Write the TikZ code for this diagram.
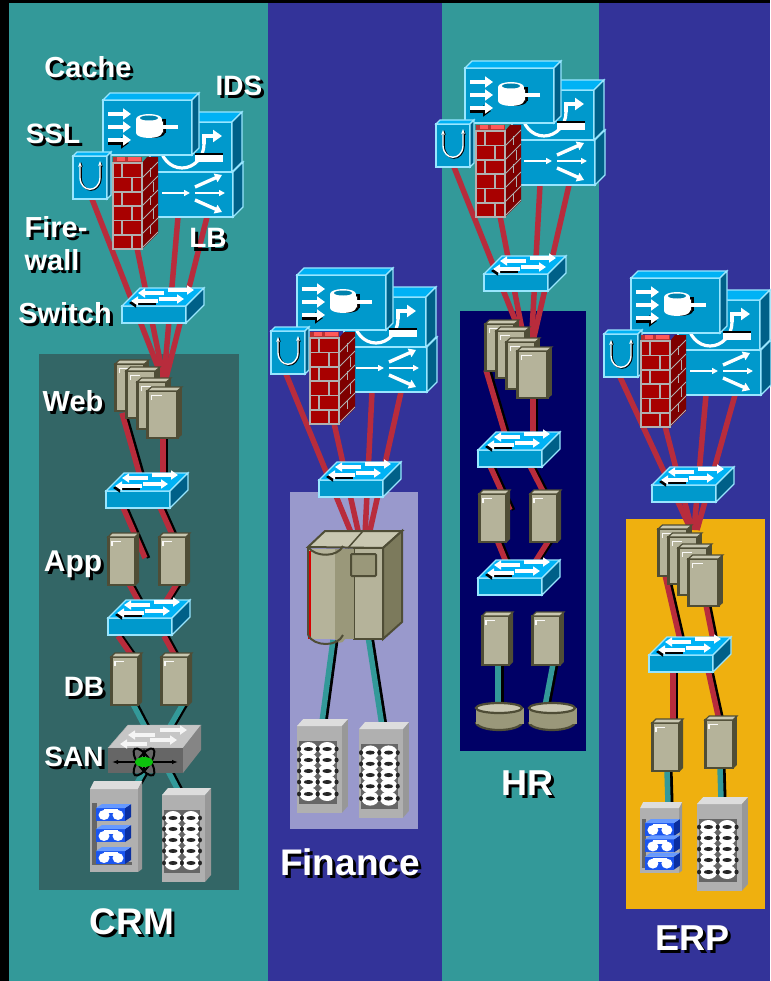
\documentclass[tikz,border=0pt]{standalone}
\usepackage{fontspec}
\setmainfont{Liberation Sans}
\usetikzlibrary{arrows.meta}
\definecolor{tealbg}{HTML}{339999}
\definecolor{bluebg}{HTML}{333399}
\definecolor{crmpanel}{HTML}{336666}
\definecolor{finpanel}{HTML}{9999CC}
\definecolor{hrpanel}{HTML}{000066}
\definecolor{erppanel}{HTML}{EFB00F}
\definecolor{bfront}{HTML}{0099CC}
\definecolor{bedge}{HTML}{99E6FF}
\definecolor{btop}{HTML}{00B2F5}
\definecolor{bside}{HTML}{006088}
\definecolor{linkred}{HTML}{B82C3C}
\definecolor{srvfront}{HTML}{B5B39A}
\definecolor{srvtop}{HTML}{C9C7B1}
\definecolor{srvdark}{HTML}{4F4D36}
\definecolor{srvmid}{HTML}{9A987A}
\definecolor{srvside}{HTML}{7C7A5C}
\definecolor{brick}{HTML}{A80000}
\definecolor{brickdark}{HTML}{7E0000}
\definecolor{cabfront}{HTML}{B0B0B0}
\definecolor{cabtop}{HTML}{DDDDDD}
\definecolor{cabside}{HTML}{989898}
\definecolor{tapefront}{HTML}{1A55F0}
\definecolor{tapetop}{HTML}{6699FF}
\definecolor{tapeside}{HTML}{0A2FA0}
\newcommand\bluebox[3]{%
  \draw[bedge,line width=1.2,fill=bfront] (0,0) rectangle (#1,#2);
  \draw[bedge,line width=1.2,fill=btop] (0,0)--(#3,-#3)--(#1+#3,-#3)--(#1,0)--cycle;
  \draw[bedge,line width=1.2,fill=bside] (#1,0)--(#1+#3,-#3)--(#1+#3,#2-#3)--(#1,#2)--cycle;}
\tikzset{
  wa/.style={white,line width=3.4,-{Triangle[length=7pt,width=9pt]}},
  wbig/.style={white,line width=4.6,-{Triangle[length=8pt,width=11pt]}},
  bbig/.style={black,line width=4.6,-{Triangle[length=8pt,width=11pt]}},
  wthin/.style={white,line width=1.6,-{Triangle[length=6pt,width=6pt]}},
  ba/.style={black,line width=3.4,-{Triangle[length=7pt,width=9pt]}},
  redl/.style={linkred,line width=5.5},
  teall/.style={tealbg,line width=5.5},
  shadowl/.style={black,line width=3.5},
  lblbase/.style={inner sep=0pt,anchor=base},
  cacheicon/.pic={
    \bluebox{89}{55}{7}
    \draw[bbig] (5,43)--(26,43);
    \draw[wbig] (5,14)--(28,14);
    \draw[wbig] (5,27)--(28,27);
    \draw[wbig] (5,40)--(28,40);
    \fill[black] (36,19) rectangle (63,33);
    \fill[black] (49,33) ellipse (13 and 5);
    \fill[white] (33,19) rectangle (59,33);
    \fill[white] (46,33) ellipse (13 and 5);
    \fill[white] (46,19) ellipse (13 and 5);
    \fill[bfront!85!black] (46,18) ellipse (9 and 2.5);
    \draw[wbig] (75,27)--(52,27);
  },
  idsicon/.pic={
    \bluebox{82}{50}{10}
    \draw[white,line width=3.2] (10,22) arc[start angle=180,end angle=0,x radius=22,y radius=24];
    \draw[white,line width=3.2,-{Triangle[length=9pt,width=12pt]}] (54,22)--(54,14)--(72,14);
    \fill[black] (45,31) rectangle (73,34);
    \fill[white] (45,33) rectangle (73,40);
  },
  lbicon/.pic={
    \bluebox{83}{45}{10}
    \draw[wthin] (12,21)--(40,21);
    \draw[wa] (45,15)--(72,3);
    \draw[wthin] (45,21)--(75,21);
    \draw[wa] (45,28)--(72,40);
  },
  sslicon/.pic={
    \bluebox{34}{43}{4}
    \draw[black,line width=1.6,{Stealth[length=5pt]}-{Stealth[length=5pt]}] (8,6)--(8,22) .. controls (9,38) and (27,38) .. (28,22)--(28,6);
    \draw[white,line width=1.4,{Stealth[length=5pt]}-{Stealth[length=5pt]}] (7,6)--(7,22) .. controls (8,37) and (26,37) .. (27,22)--(27,5);
  },
  wallicon/.pic={
    \fill[brickdark] (29,0)--(34,-6)--(45,-6)--(45,70)--(29,86)--cycle;
    \begin{scope}
      \clip (29,0)--(34,-6)--(45,-6)--(45,70)--(29,86)--cycle;
      \foreach \yy in {15,29,43,57,71,85}
        \draw[cabfront,line width=1] (29,\yy)--(45,\yy-16);
      \foreach \yy/\dd in {5/0,20/1,33/0,47/1,62/0}
        \draw[cabfront,line width=1] (37+3*\dd,\yy-\dd)--(37+3*\dd,\yy+9);
    \end{scope}
    \fill[brick!80!white] (0,-6)--(29,-6)--(29,0)--(0,0)--cycle;
    \fill[red!65!white] (4,-6) rectangle (12,-2);
    \fill[red!65!white] (15,-6) rectangle (28,-2);
    \fill[brick] (0,0) rectangle (29,86);
    \draw[cabfront,line width=1.2] (0,0) rectangle (29,86);
    \foreach \yy in {14.5,29,43,57.5,72}
      \draw[cabfront,line width=1.4] (0,\yy)--(29,\yy);
    \foreach \yy/\xa in {0/9,14.5/19,29/9,43/19,57.5/9,72/19}
      \draw[cabfront,line width=1.4] (\xa,\yy)--(\xa,\yy+14);
  },
  switchicon/.pic={
    \bluebox{64}{17}{18}
    \draw[ba] (34,-3)--(7,-3);
    \draw[wa] (42,-13)--(16,-13);
    \draw[wa] (46,-16)--(72,-16);
    \draw[wa] (36,-5)--(9,-5);
    \draw[wa] (37,-7)--(62,-7);
  },
  sanicon/.pic={
    \fill[gray!45!white,draw=gray!60!white] (0,0)--(20,-23)--(93,-23)--(75,0)--cycle;
    \fill[black!60] (0,0) rectangle (75,25);
    \fill[black!48] (75,0)--(93,-23)--(93,2)--(75,25)--cycle;
    \draw[wa,white!92!gray] (47,-13)--(20,-13);
    \draw[wa,white!92!gray] (52,-18)--(79,-18);
    \draw[wa,white!92!gray] (39,-4)--(12,-4);
    \draw[wa,white!92!gray] (42,-8)--(69,-8);
    \draw[black,line width=2,{Latex[length=6pt]}-{Latex[length=6pt]}] (4,14)--(70,14);
    \draw[black,line width=1.8,{Latex[length=5pt]}-{Latex[length=5pt]}] (36,0)--(36,25);
    \draw[black,line width=2,rotate around={55:(36,14)}] (36,14) ellipse (16 and 6);
    \draw[black,line width=2,rotate around={-55:(36,14)}] (36,14) ellipse (16 and 6);
    \fill[green!75!black!95!white] (36,14) ellipse (9 and 5);
  },
  servericon/.pic={
    \fill[srvdark] (28,4)--(32,0)--(32,49)--(28,53)--cycle;
    \draw[srvdark,line width=2.6,fill=srvfront] (1.3,4) rectangle (28,52);
    \draw[srvdark,line width=1.2,fill=srvtop] (1,4)--(5,0)--(32,0)--(28,4)--cycle;
    \draw[white!90!srvtop,line width=1.6] (5,13)--(5,8.5)--(14,8.5);
  },
  cabinet/.pic={
    \fill[cabside] (43,7)--(49,0)--(49,87)--(43,94)--cycle;
    \fill[cabfront] (0,7) rectangle (43,94);
    \fill[cabtop] (0,7)--(6,0)--(49,0)--(43,7)--cycle;
    \fill[black!60] (2,22) rectangle (38,85);
    \foreach \xx in {11,29} {
      \foreach \yy in {30,41,52,63,75}
        \fill[white] (\xx,\yy) ellipse (8.5 and 7);
      \foreach \yy in {30,41,52,63,75} {
        \fill[black!85] (\xx,\yy) ellipse (4.5 and 2);
        \fill[black!85] (\xx-9,\yy) ellipse (2 and 2.4);
        \fill[black!85] (\xx+9,\yy) ellipse (2 and 2.4);
      }
    }
  },
  tapeunit/.pic={
    \fill[tapeside] (29,0)--(35,-4)--(35,9)--(29,13)--cycle;
    \fill[tapefront] (0,0) rectangle (29,13);
    \fill[tapetop] (0,0)--(6,-4)--(35,-4)--(29,0)--cycle;
    \fill[white] (8,7) ellipse (5.5 and 5);
    \fill[white] (22,7) ellipse (5.5 and 5);
    \fill[white] (8,1) rectangle (22,5);
  },
  tapecab/.pic={
    \fill[cabside] (48,8)--(52,0)--(52,88)--(48,91)--cycle;
    \fill[cabfront] (0,8) rectangle (48,91);
    \fill[cabtop] (0,8)--(4,0)--(52,0)--(48,8)--cycle;
    \fill[black!60] (2,22) rectangle (7,84);
    \fill[black!60] (2,81) rectangle (42,84);
    \pic at (6,27) {tapeunit};
    \pic at (6,48) {tapeunit};
    \pic at (6,70) {tapeunit};
  },
  diskicon/.pic={
    \draw[srvdark,line width=2.2,fill=srvmid] (1,20) arc[start angle=180,end angle=0,x radius=23,y radius=8];
    \fill[srvmid] (1,6) rectangle (49,22);
    \draw[srvdark,line width=2.2,fill=srvtop] (24,6) ellipse (23 and 5);
  },
  mainframe/.pic={
    % origin at (308,531)
    \draw[srvdark,line width=2,fill=srvtop] (0,16)--(17,0)--(94,0)--(75,17)--cycle;
    \draw[srvdark,line width=1.5] (40,17)--(55,0);
    \draw[srvdark,line width=2,fill=srvside] (75,17)--(94,0)--(94,91)--(75,108)--cycle;
    \draw[srvdark,line width=2,fill=srvfront] (46,17) rectangle (75,108);
    \fill[srvmid] (27,18) rectangle (46,108);
    \fill[srvfront] (0,18) rectangle (27,108);
    \fill[red!85!black] (0,20) rectangle (3,108);
    \draw[srvdark,line width=2,rounded corners=1,fill=srvmid] (43,23) rectangle (68,45);
    \fill[srvmid] (27,108) .. controls (27,112) and (35,114) .. (37,108) -- cycle;
    \draw[srvdark,line width=2] (0,16) .. controls (8,27) and (30,26) .. (35,15);
    \draw[srvdark,line width=2] (0,104) .. controls (6,116) and (30,116) .. (35,104);
    \draw[srvdark,line width=2] (0,16)--(0,104);
  },
}
\newcommand\topl[2]{\draw[redl] (#1)--(#2);}
\newcommand\redlink[2]{\draw[shadowl] ([xshift=3.6]#1)--([xshift=3.6]#2);\draw[redl] (#1)--(#2);}
\newcommand\teallink[2]{\draw[shadowl] ([xshift=3.8]#1)--([xshift=3.8]#2);\draw[teall] (#1)--(#2);}
\newcommand\stackco[5]{%
  \coordinate (#1-ssl) at (#2-11,#3+99);
  \coordinate (#1-fw) at (#2+#5+24,#3+148);
  \coordinate (#1-lba) at (#2+75,#3+117);
  \coordinate (#1-lbb) at (#2+104,#3+117);
  \coordinate (#1-o) at (#2,#3);}
\newcommand\stackicons[5]{%
  \begin{scope}[shift={(#1-o)}]
    \pic at (47,72) {lbicon};
    \pic at (47,22) {idsicon};
    \pic at (0,0) {cacheicon};
    \pic at (#4,56) {sslicon};
    \pic at (#5,63) {wallicon};
  \end{scope}}
\newcommand\srv[4]{\pic[xscale=#3,yscale=#4] at (#1,#2) {servericon};}
\newcommand\lbl[5]{%
  \node[lblbase,text=white,font=\fontsize{#4}{#4}\selectfont\bfseries] (#1) at (#2,#3) {\rlap{\kern3pt\raisebox{-3pt}{\textcolor{black}{#5}}}#5};}
\begin{document}
\begin{tikzpicture}[x=1pt,y=-1pt]
\useasboundingbox (0,0) rectangle (770,981);
% background columns
\fill[black] (0,0) rectangle (770,981);
\fill[tealbg] (9,3) rectangle (268,981);
\fill[bluebg] (268,3) rectangle (442,981);
\fill[tealbg] (442,3) rectangle (599,981);
\fill[bluebg] (599,3) rectangle (770,981);
\fill[crmpanel] (39,354) rectangle (239,890);
\fill[finpanel] (290,492) rectangle (418,829);
\fill[hrpanel] (460,311) rectangle (586,751);
\fill[erppanel] (626,519) rectangle (765,909);
% anchors of the stacks
\stackco{crm}{103}{100}{-30}{10}
\stackco{fin}{297}{275}{-26}{13}
\stackco{hr}{465}{68}{-29}{11}
\stackco{erp}{631}{278}{-27}{10}
% link ends
\coordinate (crmw) at (165,385);
\coordinate (crmwb) at (163,390);
\coordinate (cw1) at (122,413);
\coordinate (cw2) at (163,435);
\coordinate (csa) at (140,476);
\coordinate (csb) at (163,476);
\coordinate (csc) at (122,505);
\coordinate (csd) at (159,505);
\coordinate (ca1) at (145,558);
\coordinate (ca2) at (180,552);
\coordinate (ca3) at (128,582);
\coordinate (ca4) at (178,582);
\coordinate (cse) at (141,606);
\coordinate (csf) at (163,606);
\coordinate (csg) at (118,636);
\coordinate (csh) at (164,636);
\coordinate (cd1) at (132,656);
\coordinate (cd2) at (175,656);
\coordinate (cd3) at (133,704);
\coordinate (cd4) at (183,704);
\coordinate (cs1) at (178,790);
\coordinate (cs2) at (133,790);
\coordinate (fm1) at (352,535);
\coordinate (fm2) at (359,535);
\coordinate (fm3) at (365,535);
\coordinate (fm4) at (369,535);
\coordinate (fb1) at (333,640);
\coordinate (fb2) at (368,636);
\coordinate (fs1) at (322,722);
\coordinate (fs2) at (382,726);
\coordinate (hw1) at (527,350);
\coordinate (hw2) at (526,350);
\coordinate (hw3) at (531,350);
\coordinate (hw4) at (531,350);
\coordinate (hwa) at (486,370);
\coordinate (hwb) at (533,395);
\coordinate (hsa) at (505,434);
\coordinate (hsb) at (533,434);
\coordinate (hsc) at (490,466);
\coordinate (hsd) at (530,466);
\coordinate (haa) at (510,510);
\coordinate (hab) at (550,505);
\coordinate (hac) at (497,540);
\coordinate (had) at (549,540);
\coordinate (hse) at (506,562);
\coordinate (hsf) at (535,562);
\coordinate (hd1) at (498,664);
\coordinate (hd2) at (553,664);
\coordinate (hk1) at (498,706);
\coordinate (hk2) at (545,706);
\coordinate (ew1) at (691,530);
\coordinate (ew2) at (692,530);
\coordinate (ew3) at (694,530);
\coordinate (ew4) at (697,530);
\coordinate (ewa) at (665,575);
\coordinate (ewb) at (705,600);
\coordinate (esa) at (680,640);
\coordinate (esb) at (713,640);
\coordinate (esc) at (673,670);
\coordinate (esd) at (708,670);
\coordinate (ea1) at (673,722);
\coordinate (ea2) at (719,720);
\coordinate (ea3) at (667,770);
\coordinate (ea4) at (720,767);
\coordinate (et1) at (668,804);
\coordinate (et2) at (721,800);
% links
\topl{crm-ssl}{crmw}\topl{crm-fw}{crmw}\topl{crm-lba}{crmwb}\topl{crm-lbb}{crmwb}
\redlink{cw1}{csa}\redlink{cw2}{csb}
\redlink{csc}{ca1}\redlink{csd}{ca2}
\redlink{ca3}{cse}\redlink{ca4}{csf}
\redlink{csg}{cd1}\redlink{csh}{cd2}
\teallink{cd3}{cs1}\teallink{cd4}{cs2}
\topl{fin-ssl}{fm1}\topl{fin-fw}{fm2}\topl{fin-lba}{fm3}\topl{fin-lbb}{fm4}
\teallink{fb1}{fs1}\teallink{fb2}{fs2}
\topl{hr-ssl}{hw1}\topl{hr-fw}{hw2}\topl{hr-lba}{hw3}\topl{hr-lbb}{hw4}
\redlink{hwa}{hsa}\redlink{hwb}{hsb}
\redlink{hsc}{haa}\redlink{hsd}{hab}
\redlink{hac}{hse}\redlink{had}{hsf}
\teallink{hd1}{hk1}\teallink{hd2}{hk2}
\topl{erp-ssl}{ew1}\topl{erp-fw}{ew2}\topl{erp-lba}{ew3}\topl{erp-lbb}{ew4}
\redlink{ewa}{esa}\redlink{ewb}{esb}
\redlink{esc}{ea1}\redlink{esd}{ea2}
\teallink{ea3}{et1}\teallink{ea4}{et2}
% CRM icons
\stackicons{crm}{}{}{-30}{10}
\pic at (122,306) {switchicon};
\srv{114}{360}{1.09}{.98}\srv{125}{367}{1.09}{.98}\srv{136}{378}{1.09}{.98}\srv{146}{387}{1.12}{.98}
\pic at (106,491) {switchicon};
\srv{107}{533}{1}{1}\srv{158}{533}{1}{1}
\pic at (108,618) {switchicon};
\srv{110}{653}{1}{1}\srv{160}{653}{1}{1}
\pic at (108,748) {sanicon};
\pic at (90,781) {tapecab};
\pic at (162,788) {cabinet};
% Finance icons
\stackicons{fin}{}{}{-26}{13}
\pic at (319,480) {switchicon};
\pic at (308,531) {mainframe};
\pic[xscale=1.04] at (297,719) {cabinet};
\pic[xscale=1.02,yscale=1.02] at (359,722) {cabinet};
% HR icons
\stackicons{hr}{}{}{-29}{11}
\pic at (484,274) {switchicon};
\srv{484}{320}{1.09}{.98}\srv{495}{327}{1.09}{.98}\srv{505}{338}{1.09}{.98}\srv{516}{347}{1.12}{.98}
\pic at (478,450) {switchicon};
\srv{478}{490}{1}{1}\srv{529}{490}{1}{1}
\pic at (478,578) {switchicon};
\srv{481}{612}{1}{1.02}\srv{531}{612}{1.03}{1.02}
\pic at (475,702) {diskicon};
\pic at (528,702) {diskicon};
% ERP icons
\stackicons{erp}{}{}{-27}{10}
\pic at (652,485) {switchicon};
\srv{657}{525}{1.09}{.98}\srv{667}{533}{1.09}{.98}\srv{677}{544}{1.09}{.98}\srv{687}{555}{1.12}{.98}
\pic at (649,655) {switchicon};
\srv{651}{719}{1}{1}\srv{704}{716}{1.03}{1}
\pic[xscale=.81,yscale=.78] at (640,802) {tapecab};
\pic[xscale=1.04] at (697,797) {cabinet};
% labels
\lbl{lcache}{88}{78}{29}{Cache}
\lbl{lids}{239}{96}{28}{IDS}
\lbl{lssl}{53}{144}{28}{SSL}
\lbl{lfire}{56}{238}{29}{Fire-}
\lbl{lwall}{52}{270}{29}{wall}
\lbl{llb}{208}{248}{28}{LB}
\lbl{lswitch}{65}{323}{29}{Switch}
\lbl{lweb}{73}{411}{29}{Web}
\lbl{lapp}{73}{571}{30}{App}
\lbl{ldb}{84}{696}{28}{DB}
\lbl{lsan}{74}{766}{28}{SAN}
\lbl{lcrm}{132}{934}{37}{CRM}
\lbl{lfin}{350}{875}{37}{Finance}
\lbl{lhr}{527}{795}{36}{HR}
\lbl{lerp}{692}{950}{36}{ERP}
\end{tikzpicture}
\end{document}
